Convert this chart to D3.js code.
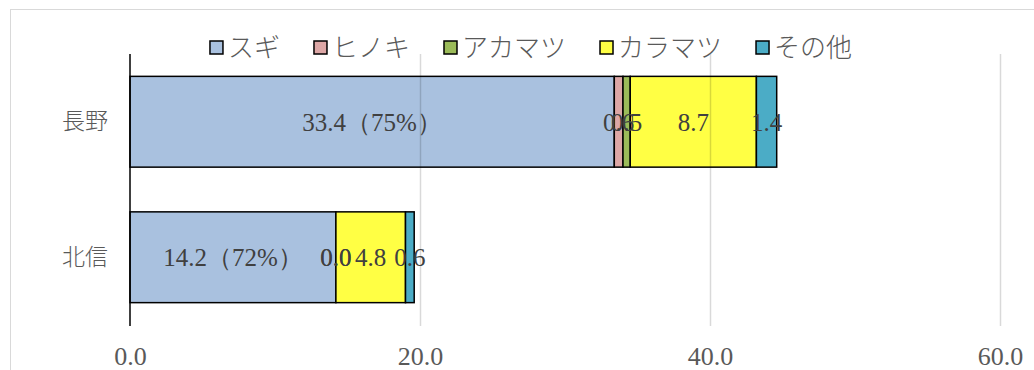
<!DOCTYPE html>
<html>
<head>
<meta charset="utf-8">
<script src="https://cdn.jsdelivr.net/npm/d3@7"></script>
<style>
  html, body { margin: 0; padding: 0; background: #fff; }
  svg { display: block; }
</style>
</head>
<body>
<svg id="chart" width="1034" height="370"></svg>
<script>
// Regions (rows) and tree species (stack order)
const regions = ["長野", "北信"];
const species = ["スギ", "ヒノキ", "アカマツ", "カラマツ", "その他"];
// Values per species, in region order
const sugi     = [33.4, 14.2];
const hinoki   = [0.6, 0.0];
const akamatsu = [0.5, 0.0];
const karamatsu = [8.7, 4.8];
const sonota   = [1.4, 0.6];
const xTicks = [0, 20, 40, 60];
const colors = ["#A9C1DF", "#DDA7A6", "#9BBB59", "#FFFF44", "#4BACC6"];

const seriesValues = [sugi, hinoki, akamatsu, karamatsu, sonota];
const table = regions.map((r, i) => {
  const row = { region: r };
  species.forEach((s, j) => row[s] = seriesValues[j][i]);
  return row;
});

const svg = d3.select("#chart");
const serifFont = "'Liberation Serif', 'DejaVu Serif', serif";
const cjkFont = "'Noto Sans CJK JP', sans-serif";

// frame
svg.append("rect")
  .attr("x", 10.5).attr("y", 9.5)
  .attr("width", 1100).attr("height", 420)
  .attr("fill", "#fff").attr("stroke", "#D9D9D9").attr("stroke-width", 1);

const x = d3.scaleLinear().domain([0, 60]).range([130, 1000]);
const y = d3.scaleBand().domain(regions).range([54, 325]).paddingInner(0.33).paddingOuter(0.165);

const stack = d3.stack().keys(species)(table);

// bars
const gBars = svg.append("g");
stack.forEach((layer, j) => {
  gBars.selectAll(null)
    .data(layer)
    .join("rect")
    .attr("x", d => x(d[0]))
    .attr("y", d => y(d.data.region))
    .attr("width", d => Math.max(0, x(d[1]) - x(d[0])))
    .attr("height", y.bandwidth())
    .attr("fill", colors[j])
    .attr("stroke", "#000")
    .attr("stroke-width", 1.5);
});

// vertical gridlines (drawn over the bars, faint)
svg.append("g")
  .selectAll("line")
  .data(xTicks.filter(t => t > 0))
  .join("line")
  .attr("x1", d => x(d) + 0.5).attr("x2", d => x(d) + 0.5)
  .attr("y1", 54).attr("y2", 326)
  .attr("stroke", "#000").attr("stroke-opacity", 0.15).attr("stroke-width", 1.5);

// category axis line
svg.append("line")
  .attr("x1", x(0)).attr("x2", x(0))
  .attr("y1", 54).attr("y2", 326)
  .attr("stroke", "#000").attr("stroke-width", 1.5);

// x axis tick labels
const xAxis = d3.axisBottom(x).tickValues(xTicks).tickFormat(d3.format(".1f")).tickSize(0).tickPadding(0);
const gx = svg.append("g").attr("transform", "translate(0,347)").call(xAxis);
gx.select(".domain").remove();
gx.selectAll("text")
  .attr("font-family", serifFont).attr("font-size", 26)
  .attr("fill", "#595959").attr("dy", "0.71em");

// category labels
const yAxis = d3.axisLeft(y).tickSize(0).tickPadding(22);
const gy = svg.append("g").attr("transform", `translate(${x(0)},0)`).call(yAxis);
gy.select(".domain").remove();
gy.selectAll("text")
  .attr("font-family", cjkFont).attr("font-weight", 300).attr("font-size", 23)
  .attr("fill", "#595959");

// data labels
const totals = table.map(r => d3.sum(species, s => r[s]));
const fmt = d3.format(".1f");
const gLab = svg.append("g")
  .attr("font-family", serifFont).attr("font-size", 25)
  .attr("fill", "#404040").attr("text-anchor", "middle");
stack.forEach((layer, j) => {
  gLab.selectAll(null)
    .data(layer)
    .join("text")
    .attr("x", d => (x(d[0]) + x(d[1])) / 2)
    .attr("y", d => y(d.data.region) + y.bandwidth() / 2)
    .attr("dy", "0.35em")
    .text((d, i) => {
      const v = d[1] - d[0];
      if (j === 0) return `${fmt(v)}（${Math.round(v / totals[i] * 100)}%）`;
      return fmt(v);
    });
});

// legend
const legend = svg.append("g").attr("transform", "translate(0,48)");
const items = legend.selectAll("g").data(species).join("g");
items.append("rect")
  .attr("x", 0).attr("y", -7).attr("width", 13).attr("height", 13)
  .attr("fill", (d, i) => colors[i]).attr("stroke", "#000").attr("stroke-width", 1.5);
items.append("text")
  .attr("x", 18).attr("dy", "0.35em")
  .attr("font-family", cjkFont).attr("font-weight", 300).attr("font-size", 26)
  .attr("fill", "#595959")
  .text(d => d);
const gap = 34;
let cx = 0;
const offsets = [];
items.each(function () {
  const w = d3.select(this).select("text").node().getComputedTextLength() + 18;
  offsets.push(cx);
  cx += w + gap;
});
const legendWidth = cx - gap;
const startX = 531 - legendWidth / 2;
items.attr("transform", (d, i) => `translate(${startX + offsets[i]},0)`);
</script>
</body>
</html>
